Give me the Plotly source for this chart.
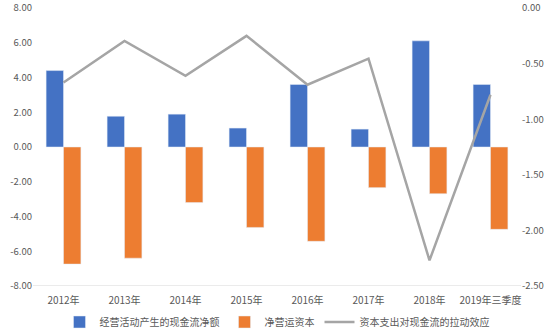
import plotly.graph_objects as go

categories = ["2012年", "2013年", "2014年", "2015年", "2016年", "2017年", "2018年", "2019年三季度"]
operating_cf = [4.40, 1.77, 1.89, 1.09, 3.60, 1.03, 6.11, 3.60]
working_capital = [-6.74, -6.40, -3.20, -4.63, -5.43, -2.34, -2.69, -4.74]
capex_effect = [-0.67, -0.295, -0.61, -0.25, -0.69, -0.455, -2.27, -0.78]

left_ticks = [8, 6, 4, 2, 0, -2, -4, -6, -8]
left_ticktext = ["8.00", "6.00", "4.00", "2.00", "0.00", "-2.00", "-4.00", "-6.00", "-8.00"]
right_ticks = [0, -0.5, -1.0, -1.5, -2.0, -2.5]
right_ticktext = ["0.00", "-0.50", "-1.00", "-1.50", "-2.00", "-2.50"]

font_family = "Noto Sans CJK SC, Noto Sans, sans-serif"
gray = "#595959"

fig = go.Figure()
fig.add_trace(go.Bar(x=categories, y=operating_cf, name="经营活动产生的现金流净额",
                     marker_color="#4472C4", yaxis="y"))
fig.add_trace(go.Bar(x=categories, y=working_capital, name="净营运资本",
                     marker_color="#ED7D31", yaxis="y"))
fig.add_trace(go.Scatter(x=categories, y=capex_effect, name="资本支出对现金流的拉动效应",
                         mode="lines", line=dict(color="#A5A5A5", width=2.5), yaxis="y2"))

fig.update_layout(
    width=554, height=333,
    margin=dict(l=33, r=33, t=8, b=47),
    paper_bgcolor="white", plot_bgcolor="white",
    barmode="group", bargap=0.43, bargroupgap=0,
    font=dict(family=font_family, size=10, color=gray),
    xaxis=dict(showgrid=False, showline=False, zeroline=False, ticks="",
               automargin=False, ticklabelstandoff=7,
               tickfont=dict(size=10, color=gray)),
    yaxis=dict(range=[-8.002, 8.002], tickvals=left_ticks, ticktext=left_ticktext,
               showgrid=False, zeroline=False, showline=False, automargin=False,
               ticklabeloverflow="allow", tickfont=dict(size=9.5, color=gray)),
    yaxis2=dict(range=[-2.5005, 0.0005], tickvals=right_ticks, ticktext=right_ticktext,
                overlaying="y", side="right", showgrid=False, zeroline=False,
                showline=False, automargin=False, ticklabeloverflow="allow",
                tickfont=dict(size=9.5, color=gray)),
    legend=dict(orientation="h", x=0.5, xanchor="center", xref="container",
                y=0.033, yanchor="middle", yref="container",
                font=dict(size=10, color=gray), traceorder="normal"),
    showlegend=True,
)
# bottom baseline at -8
fig.add_shape(type="line", xref="paper", yref="y", x0=0, x1=1, y0=-8, y1=-8,
              line=dict(color="#D9D9D9", width=1))

fig.write_html("out.html")
